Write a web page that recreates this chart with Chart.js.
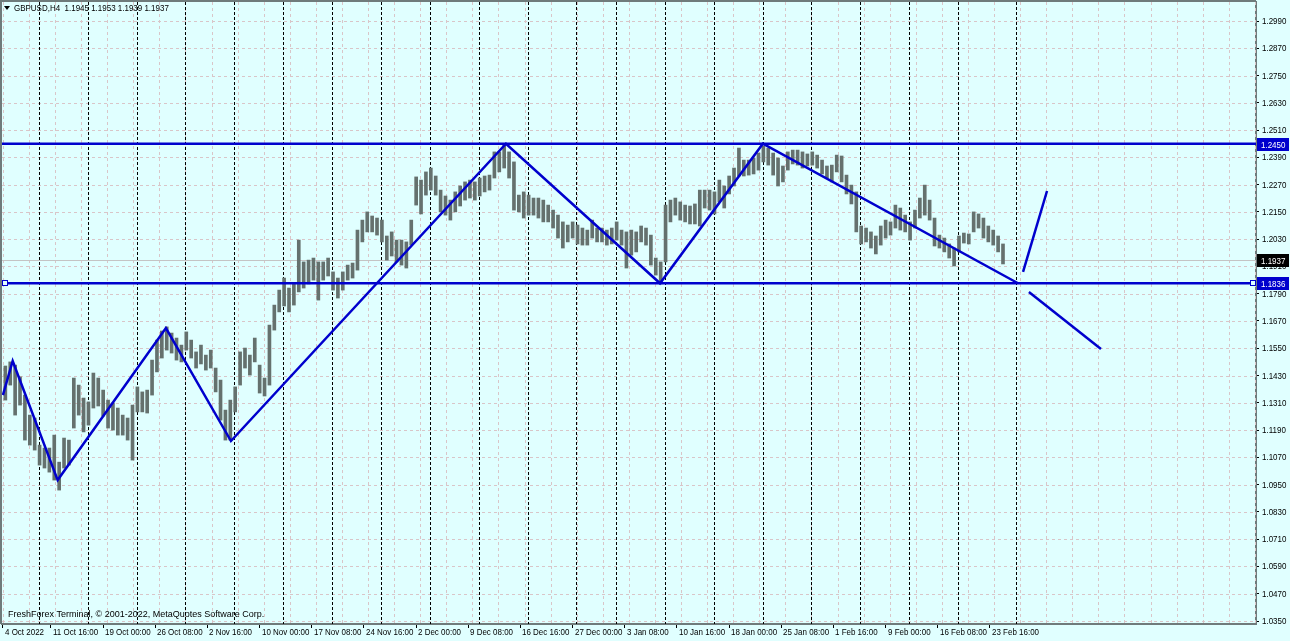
<!DOCTYPE html>
<html>
<head>
<meta charset="utf-8">
<script src="https://cdn.jsdelivr.net/npm/chart.js@4.4.0/dist/chart.umd.min.js"></script>
<style>
html, body { margin: 0; padding: 0; background: #e0ffff; }
canvas { display: block; }
</style>
</head>
<body>
<canvas id="grafico" width="1290" height="641"></canvas>
<script>
// GBPUSD H4 - cada amostra junta 3 barras H4 (minima / maxima)
const highs = [
    1.1472, 1.1490, 1.1476, 1.1424, 1.1344, 1.1256, 1.1243, 1.1124, 1.1111, 1.1111,
    1.1168, 1.1049, 1.1155, 1.1146, 1.1419, 1.1388, 1.1331, 1.1314, 1.1441, 1.1419,
    1.1366, 1.1322, 1.1309, 1.1287, 1.1256, 1.1243, 1.1300, 1.1380, 1.1358, 1.1366,
    1.1498, 1.1586, 1.1626, 1.1644, 1.1617, 1.1595, 1.1564, 1.1622, 1.1586, 1.1534,
    1.1564, 1.1520, 1.1542, 1.1463, 1.1410, 1.1278, 1.1322, 1.1380, 1.1534, 1.1551,
    1.1520, 1.1595, 1.1476, 1.1419, 1.1652, 1.1740, 1.1806, 1.1859, 1.1815, 1.1837,
    1.2026, 1.1930, 1.1938, 1.1947, 1.1930, 1.1930, 1.1947, 1.1886, 1.1859, 1.1886,
    1.1916, 1.1925, 1.2070, 1.2114, 1.2150, 1.2132, 1.2123, 1.2114, 1.2044, 1.2062,
    1.2026, 1.2026, 1.2018, 1.2114, 1.2304, 1.2290, 1.2326, 1.2343, 1.2308, 1.2246,
    1.2220, 1.2202, 1.2238, 1.2264, 1.2282, 1.2290, 1.2282, 1.2299, 1.2308, 1.2312,
    1.2414, 1.2414, 1.2444, 1.2414, 1.2370, 1.2224, 1.2238, 1.2224, 1.2211, 1.2211,
    1.2202, 1.2180, 1.2158, 1.2136, 1.2106, 1.2092, 1.2106, 1.2092, 1.2079, 1.2070,
    1.2114, 1.2079, 1.2079, 1.2070, 1.2079, 1.2106, 1.2070, 1.2062, 1.2070, 1.2062,
    1.2088, 1.2079, 1.2048, 1.1947, 1.1930, 1.2180, 1.2202, 1.2211, 1.2194, 1.2180,
    1.2176, 1.2185, 1.2246, 1.2246, 1.2246, 1.2238, 1.2290, 1.2264, 1.2308, 1.2343,
    1.2431, 1.2378, 1.2378, 1.2387, 1.2409, 1.2440, 1.2431, 1.2409, 1.2387, 1.2352,
    1.2414, 1.2422, 1.2422, 1.2414, 1.2405, 1.2414, 1.2400, 1.2378, 1.2352, 1.2356,
    1.2400, 1.2396, 1.2312, 1.2268, 1.2238, 1.2088, 1.2079, 1.2062, 1.2044, 1.2088,
    1.2114, 1.2106, 1.2180, 1.2167, 1.2136, 1.2106, 1.2158, 1.2211, 1.2268, 1.2202,
    1.2123, 1.2048, 1.2035, 1.2009, 1.1991, 1.2044, 1.2057, 1.2053, 1.2150, 1.2141,
    1.2123, 1.2088, 1.2070, 1.2044, 1.2009
];
const lows = [
    1.1322, 1.1388, 1.1256, 1.1300, 1.1146, 1.1124, 1.1102, 1.1036, 1.1023, 1.1005,
    1.0970, 1.0926, 1.1023, 1.1036, 1.1199, 1.1256, 1.1182, 1.1212, 1.1287, 1.1296,
    1.1252, 1.1199, 1.1190, 1.1168, 1.1168, 1.1146, 1.1058, 1.1270, 1.1270, 1.1265,
    1.1344, 1.1446, 1.1507, 1.1542, 1.1529, 1.1498, 1.1490, 1.1542, 1.1507, 1.1463,
    1.1481, 1.1454, 1.1463, 1.1358, 1.1234, 1.1146, 1.1146, 1.1270, 1.1388, 1.1463,
    1.1432, 1.1490, 1.1353, 1.1340, 1.1388, 1.1630, 1.1710, 1.1736, 1.1710, 1.1740,
    1.1798, 1.1815, 1.1833, 1.1850, 1.1762, 1.1850, 1.1868, 1.1806, 1.1771, 1.1806,
    1.1850, 1.1859, 1.1894, 1.2018, 1.2062, 1.2062, 1.2048, 1.2018, 1.1938, 1.1956,
    1.1930, 1.1916, 1.1903, 1.2004, 1.2180, 1.2141, 1.2224, 1.2246, 1.2224, 1.2150,
    1.2136, 1.2114, 1.2150, 1.2176, 1.2202, 1.2211, 1.2202, 1.2220, 1.2238, 1.2246,
    1.2299, 1.2326, 1.2343, 1.2299, 1.2158, 1.2150, 1.2123, 1.2136, 1.2136, 1.2123,
    1.2106, 1.2106, 1.2079, 1.2035, 1.1991, 1.2018, 1.2035, 1.2009, 1.2004, 1.2004,
    1.2035, 1.2018, 1.2018, 1.2004, 1.2009, 1.2026, 1.2004, 1.1903, 1.1960, 1.1974,
    1.2018, 1.2004, 1.1916, 1.1872, 1.1833, 1.1930, 1.2106, 1.2136, 1.2114, 1.2106,
    1.2097, 1.2097, 1.2088, 1.2167, 1.2158, 1.2141, 1.2194, 1.2167, 1.2229, 1.2264,
    1.2308, 1.2308, 1.2312, 1.2317, 1.2334, 1.2370, 1.2356, 1.2312, 1.2264, 1.2282,
    1.2334, 1.2361, 1.2356, 1.2343, 1.2352, 1.2356, 1.2343, 1.2317, 1.2299, 1.2282,
    1.2326, 1.2282, 1.2229, 1.2185, 1.2062, 1.2009, 1.2018, 1.1991, 1.1965, 1.2004,
    1.2035, 1.2048, 1.2079, 1.2070, 1.2062, 1.2026, 1.2079, 1.2123, 1.2136, 1.2114,
    1.2000, 1.1991, 1.1974, 1.1947, 1.1912, 1.1974, 1.2013, 1.2009, 1.2062, 1.2079,
    1.2035, 1.2018, 1.2004, 1.1974, 1.1921
];
const firstBar = 4;        // indice H4 da primeira amostra
const barsPerSample = 3;

const priceTicks = [1.0350, 1.0470, 1.0590, 1.0710, 1.0830, 1.0950, 1.1070, 1.1190, 1.1310, 1.1430, 1.1550,
    1.1670, 1.1790, 1.1910, 1.2030, 1.2150, 1.2270, 1.2390, 1.2510, 1.2630, 1.2750, 1.2870, 1.2990];
const timeLabels = ['4 Oct 2022', '11 Oct 16:00', '19 Oct 00:00', '26 Oct 08:00', '2 Nov 16:00', '10 Nov 00:00',
    '17 Nov 08:00', '24 Nov 16:00', '2 Dec 00:00', '9 Dec 08:00', '16 Dec 16:00', '27 Dec 00:00', '3 Jan 08:00',
    '10 Jan 16:00', '18 Jan 00:00', '25 Jan 08:00', '1 Feb 16:00', '9 Feb 00:00', '16 Feb 08:00', '23 Feb 16:00'];
const timeLabelBars = [2.5, 32, 64, 96, 128, 160, 192, 224, 256, 288, 320, 352, 384, 416, 448, 480, 512, 544, 576, 608];
const weekStartBars = [24.5, 54.5, 84.5, 114.5, 144.5, 174.5, 204.5, 234.5, 264.5, 294.5, 324.5, 354,
    378.5, 408.5, 438.5, 468.5, 498.5, 528.5, 558.5, 588.5, 624];

const zigzagBars = [2.5, 8.5, 36.1, 102.5, 142.4, 311.1, 405.6, 468.7, 625.2];
const zigzagPrices = [1.1344, 1.1494, 1.0970, 1.1639, 1.1142, 1.2450, 1.1836, 1.2450, 1.1836];
const resistance = 1.2450;
const support = 1.1836;
const lastPrice = 1.1937;
const upArrowBars = [628.3, 643.0];
const upArrowPrices = [1.1886, 1.2242];
const downArrowBars = [631.9, 676.1];
const downArrowPrices = [1.1798, 1.1547];
const header = 'GBPUSD,H4  1.1945 1.1953 1.1939 1.1937';
const footer = 'FreshForex Terminal, © 2001-2022, MetaQuotes Software Corp.';

const FONTE = '"Liberation Sans", Arial, sans-serif';
const ESTREITO = 0.84;     // fonte "condensada" como a do terminal
const AZUL = '#0000cd';
const xMin = 1.945, xMax = 771.2;
const yMin = 1.03368, yMax = 1.30736;

const barras = highs.map((h, i) => ({x: firstBar + i * barsPerSample, y: [lows[i], h]}));
const pontos = (bars, prices) => bars.map((b, i) => ({x: b, y: prices[i]}));
const linha = (data, width = 2.5) => ({
    type: 'line', data, borderColor: AZUL, borderWidth: width, pointRadius: 0,
    fill: false, tension: 0, order: 1
});

const desenhoFundo = {
    id: 'desenhoFundo',
    beforeDraw(chart) {
        const {ctx, width, height} = chart;
        ctx.save();
        ctx.fillStyle = '#e0ffff';
        ctx.fillRect(0, 0, width, height);
        ctx.restore();
    },
    beforeDatasetsDraw(chart) {
        const {ctx, chartArea: a, scales: {x, y}} = chart;
        const traco = (x1, y1, x2, y2) => { ctx.beginPath(); ctx.moveTo(x1, y1); ctx.lineTo(x2, y2); ctx.stroke(); };
        ctx.save();
        ctx.beginPath();
        ctx.rect(a.left, a.top, a.right - a.left, a.bottom - a.top);
        ctx.clip();
        ctx.lineWidth = 1;
        ctx.strokeStyle = '#d9c5c8';
        ctx.setLineDash([3, 3]);
        priceTicks.forEach(p => {
            const py = Math.round(y.getPixelForValue(p)) + 0.5;
            traco(a.left, py, a.right, py);
        });
        for (let b = 2.5; b < xMax; b += 16) {
            const px = Math.round(x.getPixelForValue(b)) + 0.5;
            traco(px, a.top, px, a.bottom);
        }
        // linha do bid
        ctx.setLineDash([]);
        ctx.strokeStyle = '#c4c4c4';
        const by = Math.round(y.getPixelForValue(lastPrice)) + 0.5;
        traco(a.left, by, a.right, by);
        // separadores semanais
        ctx.strokeStyle = '#000';
        ctx.setLineDash([3, 2]);
        weekStartBars.forEach(b => {
            const px = Math.round(x.getPixelForValue(b)) + 0.5;
            traco(px, a.top, px, a.bottom);
        });
        ctx.restore();
    },
    afterDraw(chart) {
        const {ctx, chartArea: a, scales: {x, y}} = chart;
        const texto = (txt, px, py, cor = '#000') => {
            ctx.save();
            ctx.translate(px, py);
            ctx.scale(ESTREITO, 1);
            ctx.fillStyle = cor;
            ctx.fillText(txt, 0, 0);
            ctx.restore();
        };
        ctx.save();
        ctx.font = `9.5px ${FONTE}`;
        ctx.textAlign = 'left';
        ctx.textBaseline = 'middle';

        // bordas esquerda e topo
        ctx.fillStyle = '#6f7b7b';
        ctx.fillRect(0, 0, 2, a.bottom);
        ctx.fillRect(0, 0, a.right, 2);

        // rotulos dos eixos
        priceTicks.forEach(p => texto(p.toFixed(4), a.right + 6, Math.round(y.getPixelForValue(p)) + 0.5));
        timeLabelBars.forEach((b, i) => texto(timeLabels[i], Math.round(x.getPixelForValue(b)) + 2, a.bottom + 8.5));

        const etiqueta = (price, bg) => {
            const py = Math.round(y.getPixelForValue(price));
            ctx.fillStyle = bg;
            ctx.fillRect(a.right + 1, py - 6, 32, 13);
            texto(price.toFixed(4), a.right + 5, py + 1, '#fff');
        };
        etiqueta(resistance, AZUL);
        etiqueta(support, AZUL);
        etiqueta(lastPrice, '#000');

        // marcadores do objeto selecionado
        const sy = Math.round(y.getPixelForValue(support));
        ctx.strokeStyle = AZUL;
        ctx.lineWidth = 1;
        ctx.fillStyle = '#e0ffff';
        [a.left + 3, a.right - 3].forEach(px => {
            ctx.fillRect(px - 2, sy - 2, 5, 5);
            ctx.strokeRect(px - 2.5, sy - 2.5, 5, 5);
        });

        // cabecalho e rodape
        ctx.fillStyle = '#000';
        ctx.beginPath();
        ctx.moveTo(4, 6); ctx.lineTo(10, 6); ctx.lineTo(7, 10); ctx.closePath();
        ctx.fill();
        texto(header, 14, 8.5);
        ctx.font = `9px ${FONTE}`;
        ctx.fillText(footer, 8, 615);
        ctx.restore();
    }
};

const main = () => {
    const ctx = document.getElementById('grafico');
    if (!ctx) throw 'grafico não encontrado!';

    new Chart(ctx, {
        type: 'bar',
        data: {
            datasets: [
                {type: 'bar', data: barras, backgroundColor: '#65716e', barThickness: 3, grouped: false, order: 10},
                linha(pontos(zigzagBars, zigzagPrices)),
                linha([{x: xMin, y: resistance}, {x: xMax, y: resistance}]),
                linha([{x: xMin, y: support}, {x: xMax, y: support}]),
                linha(pontos(upArrowBars, upArrowPrices)),
                linha(pontos(downArrowBars, downArrowPrices))
            ]
        },
        options: {
            responsive: false,
            animation: false,
            devicePixelRatio: 1,
            layout: {padding: {left: 2, top: 2, right: 0, bottom: 0}},
            plugins: {legend: {display: false}, tooltip: {enabled: false}},
            scales: {
                x: {
                    type: 'linear', min: xMin, max: xMax, offset: false,
                    afterBuildTicks: s => { s.ticks = timeLabelBars.map(v => ({value: v})); },
                    afterFit: s => { s.height = 17; s.paddingLeft = 0; s.paddingRight = 0; },
                    ticks: {display: false, autoSkip: false},
                    grid: {display: true, offset: false, drawOnChartArea: false, drawTicks: true, tickLength: 4, color: '#000'},
                    border: {display: true, color: '#6f7b7b', width: 2}
                },
                y: {
                    type: 'linear', position: 'right', min: yMin, max: yMax,
                    afterBuildTicks: s => { s.ticks = priceTicks.map(v => ({value: v})); },
                    afterFit: s => { s.width = 34; s.paddingTop = 0; s.paddingBottom = 0; },
                    ticks: {display: false, autoSkip: false},
                    grid: {display: true, drawOnChartArea: false, drawTicks: true, tickLength: 3, color: '#000'},
                    border: {display: true, color: '#6f7b7b', width: 2}
                }
            }
        },
        plugins: [desenhoFundo]
    });
};
main();
</script>
</body>
</html>
